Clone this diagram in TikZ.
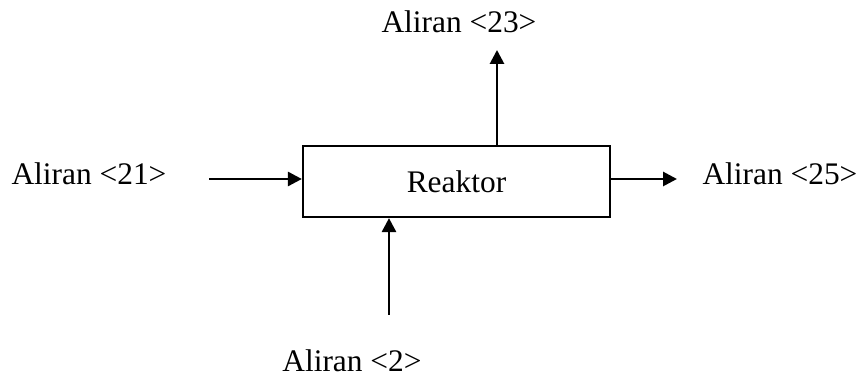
\documentclass[tikz,border=0pt]{standalone}
\usepackage{fontspec}
\setmainfont{Liberation Serif}
\usetikzlibrary{arrows.meta,positioning}
\tikzset{
  % Process unit: plain rectangle.
  aliran/unit/.style={
    draw=black, fill=white, line width=1.1pt, inner sep=0pt,
    minimum width=153.5pt, minimum height=35.5pt,
    font=\fontsize{15.7}{18}\selectfont
  },
  % Stream arrows.
  aliran/arrow/.style={
    -{Triangle[length=7pt,width=7pt]}, line width=1.4pt, draw=black
  },
  % Stream labels.
  aliran/label/.style={
    font=\fontsize{15.7}{18}\selectfont, inner sep=0pt, text=black, anchor=base
  },
}
\begin{document}
\begin{tikzpicture}[x=0.5pt,y=-0.5pt]
  \useasboundingbox (0,0) rectangle (863,378);
  \node[aliran/unit] (rk) at (456.5,181.5) {Reaktor};
  \coordinate (a21) at (209,179);
  \coordinate (a23) at (497,50);
  \coordinate (a25) at (677,179);
  \coordinate (a2)  at (389,315);
  \draw[aliran/arrow] (a21) -- (a21 -| rk.west);
  \draw[aliran/arrow] (a23 |- rk.north) -- (a23);
  \draw[aliran/arrow] (a25 -| rk.east) -- (a25);
  \draw[aliran/arrow] (a2) -- (a2 |- rk.south);
  \node[aliran/label] (l21) at (89,185)  {Aliran <21>};
  \node[aliran/label] (l23) at (459,33)  {Aliran <23>};
  \node[aliran/label] (l25) at (780,185) {Aliran <25>};
  \node[aliran/label] (l2)  at (352,372) {Aliran <2>};
\end{tikzpicture}
\end{document}
